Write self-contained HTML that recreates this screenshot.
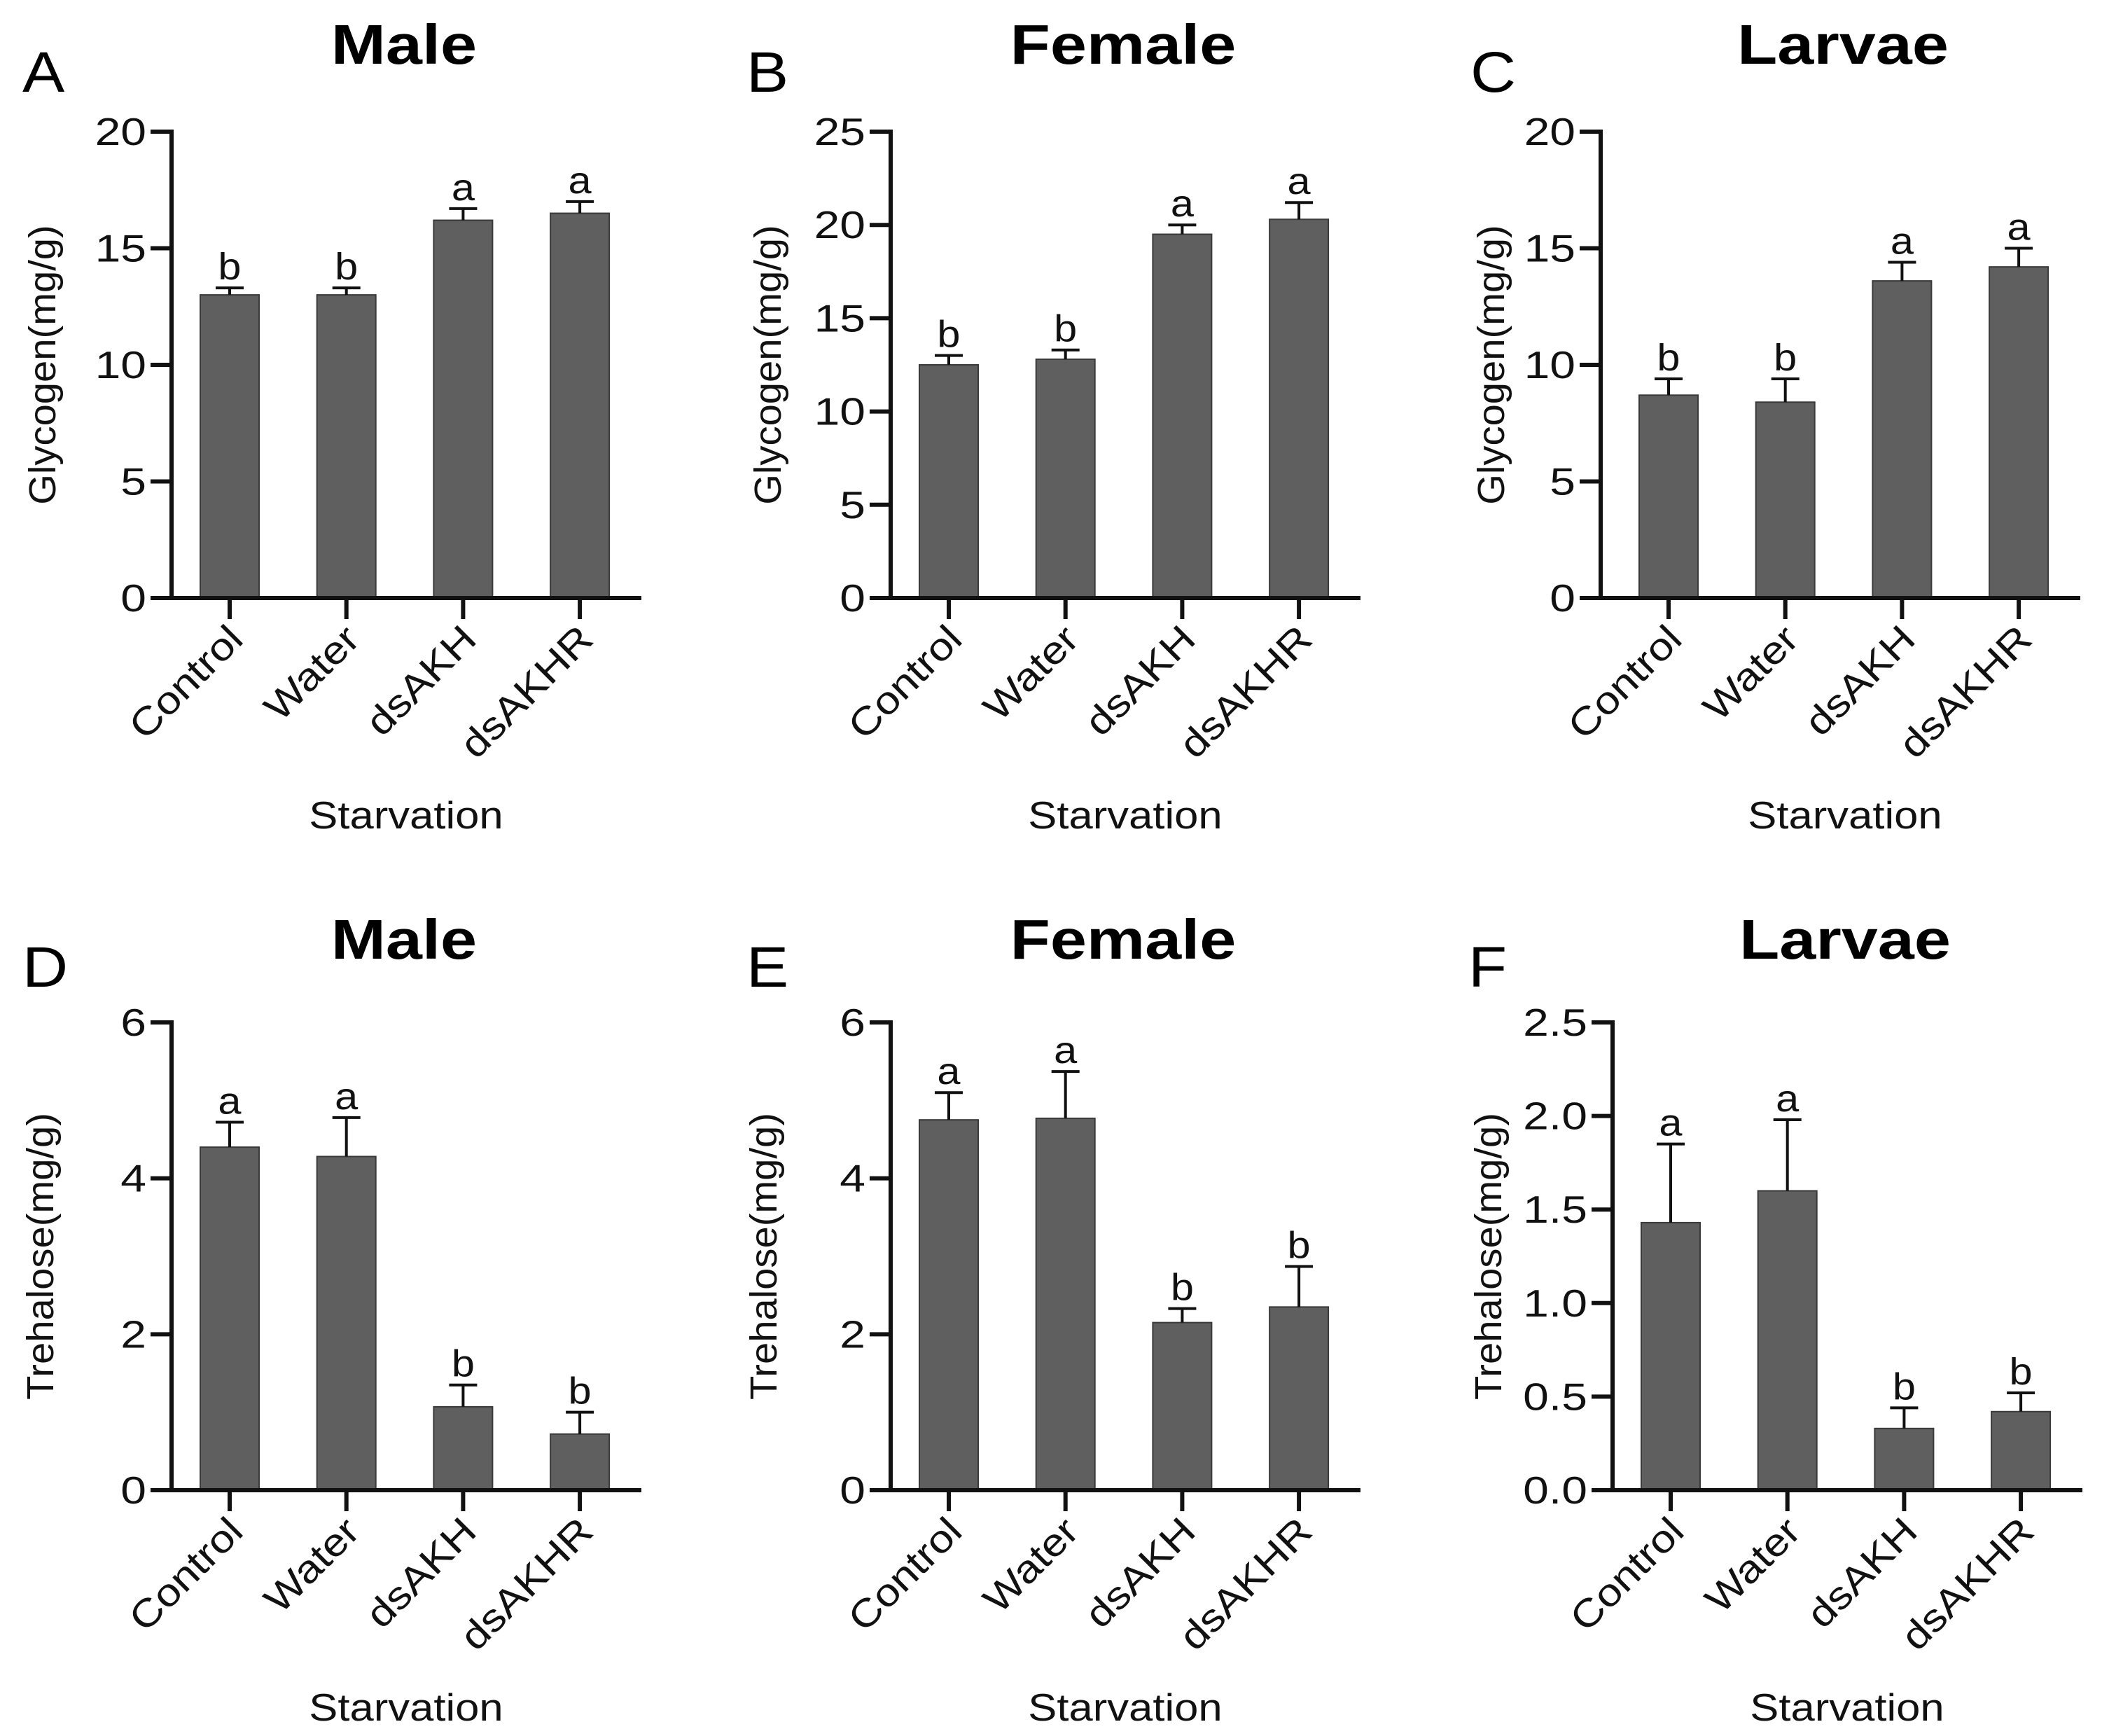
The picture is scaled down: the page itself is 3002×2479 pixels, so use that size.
<!DOCTYPE html>
<html><head><meta charset="utf-8"><style>
html,body{margin:0;padding:0;background:#fff;}
svg{display:block;font-family:"Liberation Sans",Arial,sans-serif;}
</style></head><body>
<svg id="fig" width="3002" height="2479" viewBox="0 0 3002 2479" xmlns="http://www.w3.org/2000/svg"></svg>
<script>
const categories = ["Control","Water","dsAKH","dsAKHR"];
const maleGlyVals = [13.0, 13.0, 16.2, 16.5];
const maleGlyErr = [0.3, 0.3, 0.5, 0.5];
const maleGlyLetters = ["b","b","a","a"];
const femGlyVals = [12.5, 12.8, 19.5, 20.3];
const femGlyErr = [0.5, 0.5, 0.5, 0.9];
const femGlyLetters = ["b","b","a","a"];
const larGlyVals = [8.7, 8.4, 13.6, 14.2];
const larGlyErr = [0.7, 1.0, 0.8, 0.8];
const larGlyLetters = ["b","b","a","a"];
const maleTreVals = [4.4, 4.28, 1.07, 0.72];
const maleTreErr = [0.32, 0.5, 0.28, 0.28];
const maleTreLetters = ["a","a","b","b"];
const femTreVals = [4.75, 4.77, 2.15, 2.35];
const femTreErr = [0.35, 0.6, 0.18, 0.52];
const femTreLetters = ["a","a","b","b"];
const larTreVals = [1.43, 1.6, 0.33, 0.42];
const larTreErr = [0.42, 0.38, 0.11, 0.1];
const larTreLetters = ["a","a","b","b"];
const ticks20 = [0,5,10,15,20];
const ticks25 = [0,5,10,15,20,25];
const ticks6 = [0,2,4,6];
const ticks25f = [0.0,0.5,1.0,1.5,2.0,2.5];

const NS="http://www.w3.org/2000/svg";
const svg=document.getElementById('fig');
function mk(tag,attrs,parent,txt){const e=document.createElementNS(NS,tag);for(const k in attrs)e.setAttribute(k,attrs[k]);if(txt!==undefined)e.textContent=txt;(parent||svg).appendChild(e);return e;}
function widen(t,f){try{const w=t.getComputedTextLength();if(w>0){t.setAttribute('textLength',(w*f).toFixed(1));t.setAttribute('lengthAdjust','spacingAndGlyphs');}}catch(e){}}

function panel(o){
  const g=mk('g',{});
  
  
  const ax=o.ax, top=o.top, zero=o.zero, off=o.off||0, xEnd=ax+671+off;
  const ymax=o.ticks[o.ticks.length-1];
  const y=v=>zero-(v/ymax)*(zero-top);
  const xc=i=>ax+83+off+i*166.7;
  const bw=84;
  o.vals.forEach((v,i)=>{
    const r=mk('rect',{x:xc(i)-bw/2,y:y(v),width:bw,height:zero-y(v),fill:'#5f5f5f',stroke:'#3a3a3a','stroke-width':2},g);
    
    
    const et=y(v+o.err[i]);
    const e=mk('path',{d:`M${xc(i)} ${y(v)} V${et} M${xc(i)-20} ${et} H${xc(i)+20}`,stroke:'#111','stroke-width':4,fill:'none'},g);
    
    
    const t=mk('text',{x:xc(i),y:et-12,'text-anchor':'middle','font-size':54,fill:'#111'},g,o.letters[i]);
    
    
    widen(t,1.1);
    const tk=mk('line',{x1:xc(i),x2:xc(i),y1:zero,y2:zero+30,stroke:'#111','stroke-width':6},g);
    
    
    const lx=xc(i)+22, ly=zero+62;
    const cl=mk('text',{x:lx,y:ly,'text-anchor':'end','font-size':55,fill:'#111',transform:`rotate(-45 ${lx} ${ly})`},g,categories[i]);
    
    
    widen(cl,1.14);
  });
  const axes=mk('path',{d:`M${ax} ${top-3} V${zero} H${xEnd}`,stroke:'#111','stroke-width':6,fill:'none'},g);
  
  
  o.ticks.forEach(t=>{
    const l=mk('line',{x1:ax-30,x2:ax,y1:y(t),y2:y(t),stroke:'#111','stroke-width':6},g);
    
    
    const tl=mk('text',{x:ax-36,y:y(t)+19,'text-anchor':'end','font-size':55,fill:'#111'},g,o.dec?t.toFixed(1):String(t));
    
    
    widen(tl,1.2);
  });
  const yl=mk('text',{x:o.ylx,y:(top+zero)/2,'text-anchor':'middle','font-size':54,fill:'#111',transform:`rotate(-90 ${o.ylx} ${(top+zero)/2})`,dy:18},g,o.ylabel);
  
  
  widen(yl,1.04);
  const xl=mk('text',{x:ax+335+off,y:zero+329,'text-anchor':'middle','font-size':55,fill:'#111'},g,'Starvation');
  
  
  widen(xl,1.12);
  const ti=mk('text',{x:ax+332+off,y:o.titleY,'text-anchor':'middle','font-size':80,'font-weight':'bold',fill:'#000'},g,o.title);
  
  
  widen(ti,1.17);
  const pl=mk('text',{x:o.lx,y:o.titleY+40,'font-size':82,fill:'#000'},g,o.letter);
  
  
  widen(pl,1.1);
}
const r1={top:188,zero:854,titleY:91}, r2={top:1460,zero:2128,titleY:1369};
panel({...r1,ax:245,lx:32,ylx:61,letter:'A',title:'Male',ylabel:'Glycogen(mg/g)',vals:maleGlyVals,err:maleGlyErr,letters:maleGlyLetters,ticks:ticks20});
panel({...r1,ax:1272,lx:1066,ylx:1097,letter:'B',title:'Female',ylabel:'Glycogen(mg/g)',vals:femGlyVals,err:femGlyErr,letters:femGlyLetters,ticks:ticks25});
panel({...r1,ax:2286,off:14,lx:2100,ylx:2130,letter:'C',title:'Larvae',ylabel:'Glycogen(mg/g)',vals:larGlyVals,err:larGlyErr,letters:larGlyLetters,ticks:ticks20});
panel({...r2,ax:245,lx:32,ylx:58,letter:'D',title:'Male',ylabel:'Trehalose(mg/g)',vals:maleTreVals,err:maleTreErr,letters:maleTreLetters,ticks:ticks6});
panel({...r2,ax:1272,lx:1066,ylx:1091,letter:'E',title:'Female',ylabel:'Trehalose(mg/g)',vals:femTreVals,err:femTreErr,letters:femTreLetters,ticks:ticks6});
panel({...r2,ax:2303,lx:2097,ylx:2126,letter:'F',title:'Larvae',ylabel:'Trehalose(mg/g)',vals:larTreVals,err:larTreErr,letters:larTreLetters,ticks:ticks25f,dec:true});
</script>
</body></html>
